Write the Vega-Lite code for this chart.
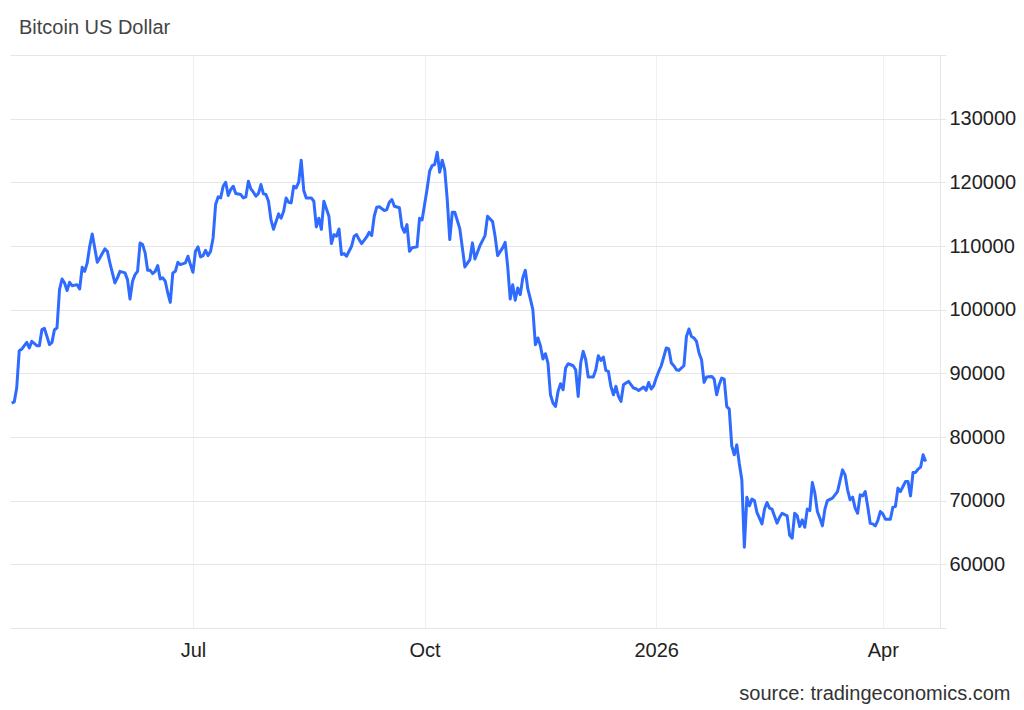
{
  "$schema": "https://vega.github.io/schema/vega-lite/v6.json",
  "width": 930,
  "height": 573,
  "autosize": "none",
  "padding": {"left": 10, "top": 55, "right": 84, "bottom": 82},
  "background": "white",
  "config": {"font": "Liberation Sans", "view": {"stroke": null}},
  "title": {"text": "Bitcoin US Dollar", "anchor": "start", "frame": "group", "fontSize": 20, "fontWeight": "normal", "color": "#444444", "dx": 9, "dy": 20, "baseline": "alphabetic", "offset": 21},
  "data": {"values": [
    {"date":"2025-04-20","price":85330},{"date":"2025-04-21","price":85500},{"date":"2025-04-22","price":87700},{"date":"2025-04-23","price":93550},{"date":"2025-04-24","price":93800},{"date":"2025-04-26","price":94860},{"date":"2025-04-27","price":93980},{"date":"2025-04-28","price":95020},{"date":"2025-04-30","price":94340},
    {"date":"2025-05-01","price":94340},{"date":"2025-05-02","price":96860},{"date":"2025-05-03","price":97060},{"date":"2025-05-04","price":95800},{"date":"2025-05-05","price":94500},{"date":"2025-05-06","price":94860},{"date":"2025-05-07","price":96860},{"date":"2025-05-08","price":97120},{"date":"2025-05-09","price":103140},{"date":"2025-05-10","price":104820},{"date":"2025-05-11","price":104200},{"date":"2025-05-12","price":102990},{"date":"2025-05-13","price":104300},{"date":"2025-05-14","price":103770},{"date":"2025-05-16","price":103930},{"date":"2025-05-17","price":103250},{"date":"2025-05-18","price":106650},{"date":"2025-05-19","price":106020},{"date":"2025-05-20","price":107340},{"date":"2025-05-21","price":109950},{"date":"2025-05-22","price":111900},{"date":"2025-05-24","price":107440},{"date":"2025-05-25","price":108130},{"date":"2025-05-27","price":109540},{"date":"2025-05-28","price":109170},{"date":"2025-05-29","price":107340},{"date":"2025-05-31","price":104200},
    {"date":"2025-06-01","price":104990},{"date":"2025-06-02","price":106020},{"date":"2025-06-04","price":105780},{"date":"2025-06-05","price":104720},{"date":"2025-06-06","price":101680},{"date":"2025-06-07","price":104460},{"date":"2025-06-08","price":105500},{"date":"2025-06-09","price":106020},{"date":"2025-06-10","price":110490},{"date":"2025-06-11","price":110220},{"date":"2025-06-12","price":108920},{"date":"2025-06-13","price":106180},{"date":"2025-06-14","price":106180},{"date":"2025-06-15","price":105660},{"date":"2025-06-16","price":106020},{"date":"2025-06-17","price":106920},{"date":"2025-06-18","price":104820},{"date":"2025-06-19","price":104990},{"date":"2025-06-20","price":104460},{"date":"2025-06-21","price":102620},{"date":"2025-06-22","price":101150},{"date":"2025-06-23","price":105770},{"date":"2025-06-24","price":106020},{"date":"2025-06-25","price":107440},{"date":"2025-06-26","price":107080},{"date":"2025-06-28","price":107340},{"date":"2025-06-29","price":108390},{"date":"2025-06-30","price":107080},
    {"date":"2025-07-01","price":105870},{"date":"2025-07-02","price":109170},{"date":"2025-07-03","price":109860},{"date":"2025-07-04","price":108290},{"date":"2025-07-05","price":108490},{"date":"2025-07-06","price":109330},{"date":"2025-07-07","price":108490},{"date":"2025-07-08","price":109170},{"date":"2025-07-09","price":111270},{"date":"2025-07-10","price":116510},{"date":"2025-07-11","price":117710},{"date":"2025-07-12","price":117550},{"date":"2025-07-13","price":119390},{"date":"2025-07-14","price":120020},{"date":"2025-07-15","price":117930},{"date":"2025-07-16","price":118870},{"date":"2025-07-17","price":119390},{"date":"2025-07-18","price":118240},{"date":"2025-07-20","price":118080},{"date":"2025-07-21","price":117550},{"date":"2025-07-22","price":117710},{"date":"2025-07-23","price":120170},{"date":"2025-07-24","price":118970},{"date":"2025-07-25","price":118450},{"date":"2025-07-26","price":117830},{"date":"2025-07-27","price":118240},{"date":"2025-07-28","price":119650},{"date":"2025-07-29","price":118190},{"date":"2025-07-30","price":118080},{"date":"2025-07-31","price":117030},
    {"date":"2025-08-01","price":114090},{"date":"2025-08-02","price":112620},{"date":"2025-08-03","price":113830},{"date":"2025-08-04","price":115040},{"date":"2025-08-05","price":114360},{"date":"2025-08-06","price":115410},{"date":"2025-08-07","price":117550},{"date":"2025-08-08","price":116870},{"date":"2025-08-09","price":116770},{"date":"2025-08-10","price":119390},{"date":"2025-08-11","price":119130},{"date":"2025-08-12","price":120020},{"date":"2025-08-13","price":123480},{"date":"2025-08-14","price":118710},{"date":"2025-08-15","price":117550},{"date":"2025-08-17","price":117550},{"date":"2025-08-18","price":117030},{"date":"2025-08-19","price":113000},{"date":"2025-08-20","price":114360},{"date":"2025-08-21","price":112620},{"date":"2025-08-22","price":117030},{"date":"2025-08-24","price":114670},{"date":"2025-08-25","price":110380},{"date":"2025-08-26","price":111790},{"date":"2025-08-27","price":111530},{"date":"2025-08-28","price":112680},{"date":"2025-08-29","price":108650},{"date":"2025-08-30","price":108800},{"date":"2025-08-31","price":108390},
    {"date":"2025-09-02","price":109960},{"date":"2025-09-03","price":111530},{"date":"2025-09-04","price":111790},{"date":"2025-09-05","price":111010},{"date":"2025-09-06","price":110380},{"date":"2025-09-08","price":111420},{"date":"2025-09-09","price":112150},{"date":"2025-09-10","price":111640},{"date":"2025-09-11","price":114670},{"date":"2025-09-12","price":116100},{"date":"2025-09-13","price":116160},{"date":"2025-09-15","price":115570},{"date":"2025-09-16","price":115730},{"date":"2025-09-17","price":116870},{"date":"2025-09-18","price":117300},{"date":"2025-09-19","price":116240},{"date":"2025-09-21","price":116000},{"date":"2025-09-22","price":113000},{"date":"2025-09-23","price":112150},{"date":"2025-09-24","price":113360},{"date":"2025-09-25","price":109170},{"date":"2025-09-26","price":109710},{"date":"2025-09-28","price":109860},{"date":"2025-09-29","price":114360},{"date":"2025-09-30","price":114090},
    {"date":"2025-10-02","price":118970},{"date":"2025-10-03","price":121750},{"date":"2025-10-04","price":122640},{"date":"2025-10-05","price":122800},{"date":"2025-10-06","price":124730},{"date":"2025-10-07","price":121590},{"date":"2025-10-08","price":123480},{"date":"2025-10-09","price":122010},{"date":"2025-10-10","price":117300},{"date":"2025-10-11","price":111010},{"date":"2025-10-12","price":115300},{"date":"2025-10-13","price":115300},{"date":"2025-10-15","price":112680},{"date":"2025-10-16","price":109710},{"date":"2025-10-17","price":106710},{"date":"2025-10-19","price":107860},{"date":"2025-10-20","price":110490},{"date":"2025-10-21","price":107970},{"date":"2025-10-23","price":110060},{"date":"2025-10-25","price":111640},{"date":"2025-10-26","price":114670},{"date":"2025-10-28","price":113830},{"date":"2025-10-29","price":111530},{"date":"2025-10-30","price":108490},
    {"date":"2025-11-01","price":109710},{"date":"2025-11-02","price":110580},{"date":"2025-11-03","price":106810},{"date":"2025-11-04","price":101680},{"date":"2025-11-05","price":103930},{"date":"2025-11-06","price":101470},{"date":"2025-11-07","price":103410},{"date":"2025-11-08","price":102360},{"date":"2025-11-09","price":104990},{"date":"2025-11-10","price":106180},{"date":"2025-11-11","price":103250},{"date":"2025-11-12","price":101680},{"date":"2025-11-13","price":100000},{"date":"2025-11-14","price":94500},{"date":"2025-11-15","price":95550},{"date":"2025-11-16","price":94340},{"date":"2025-11-17","price":92250},{"date":"2025-11-18","price":93080},{"date":"2025-11-19","price":91620},{"date":"2025-11-20","price":86630},{"date":"2025-11-21","price":85330},{"date":"2025-11-22","price":84800},{"date":"2025-11-23","price":87160},{"date":"2025-11-24","price":88360},{"date":"2025-11-25","price":87420},{"date":"2025-11-26","price":90830},{"date":"2025-11-27","price":91510},{"date":"2025-11-29","price":91190},{"date":"2025-11-30","price":90570},
    {"date":"2025-12-01","price":86370},{"date":"2025-12-02","price":91620},{"date":"2025-12-03","price":93450},{"date":"2025-12-04","price":92140},{"date":"2025-12-05","price":89420},{"date":"2025-12-07","price":89420},{"date":"2025-12-08","price":90570},{"date":"2025-12-09","price":92770},{"date":"2025-12-10","price":92040},{"date":"2025-12-11","price":92560},{"date":"2025-12-12","price":90460},{"date":"2025-12-13","price":90300},{"date":"2025-12-14","price":87950},{"date":"2025-12-15","price":86630},{"date":"2025-12-16","price":87950},{"date":"2025-12-17","price":86370},{"date":"2025-12-18","price":85590},{"date":"2025-12-19","price":88210},{"date":"2025-12-20","price":88470},{"date":"2025-12-21","price":88730},{"date":"2025-12-23","price":87690},{"date":"2025-12-24","price":87580},{"date":"2025-12-25","price":87320},{"date":"2025-12-27","price":87850},{"date":"2025-12-28","price":87320},{"date":"2025-12-29","price":88570},{"date":"2025-12-30","price":87530},{"date":"2025-12-31","price":88050},
    {"date":"2026-01-01","price":89260},{"date":"2026-01-02","price":90300},{"date":"2026-01-03","price":91190},{"date":"2026-01-05","price":93980},{"date":"2026-01-06","price":93820},{"date":"2026-01-07","price":91620},{"date":"2026-01-08","price":91190},{"date":"2026-01-09","price":90570},{"date":"2026-01-10","price":90460},{"date":"2026-01-12","price":91190},{"date":"2026-01-13","price":95800},{"date":"2026-01-14","price":96960},{"date":"2026-01-15","price":95800},{"date":"2026-01-16","price":95550},{"date":"2026-01-17","price":95020},{"date":"2026-01-18","price":93190},{"date":"2026-01-19","price":92140},{"date":"2026-01-20","price":88570},{"date":"2026-01-21","price":89420},{"date":"2026-01-23","price":89520},{"date":"2026-01-24","price":89100},{"date":"2026-01-25","price":86630},{"date":"2026-01-26","price":88210},{"date":"2026-01-27","price":89260},{"date":"2026-01-28","price":89100},{"date":"2026-01-29","price":84800},{"date":"2026-01-30","price":84380},{"date":"2026-01-31","price":78620},
    {"date":"2026-02-01","price":77200},{"date":"2026-02-02","price":78770},{"date":"2026-02-03","price":75790},{"date":"2026-02-04","price":73270},{"date":"2026-02-05","price":62690},{"date":"2026-02-06","price":70550},{"date":"2026-02-07","price":69180},{"date":"2026-02-08","price":70240},{"date":"2026-02-09","price":70020},{"date":"2026-02-10","price":68150},{"date":"2026-02-12","price":66350},{"date":"2026-02-13","price":68670},{"date":"2026-02-14","price":69710},{"date":"2026-02-15","price":68830},{"date":"2026-02-16","price":68670},{"date":"2026-02-18","price":66460},{"date":"2026-02-19","price":67400},{"date":"2026-02-20","price":68030},{"date":"2026-02-22","price":67610},{"date":"2026-02-23","price":64550},{"date":"2026-02-24","price":64100},{"date":"2026-02-25","price":68030},{"date":"2026-02-26","price":67610},{"date":"2026-02-27","price":65930},{"date":"2026-02-28","price":66980},
    {"date":"2026-03-01","price":65830},{"date":"2026-03-02","price":68670},{"date":"2026-03-03","price":68460},{"date":"2026-03-04","price":72850},{"date":"2026-03-05","price":71180},{"date":"2026-03-06","price":68290},{"date":"2026-03-07","price":67240},{"date":"2026-03-08","price":66040},{"date":"2026-03-09","price":68670},{"date":"2026-03-10","price":70020},{"date":"2026-03-12","price":70390},{"date":"2026-03-13","price":70910},{"date":"2026-03-14","price":71430},{"date":"2026-03-16","price":74840},{"date":"2026-03-17","price":74060},{"date":"2026-03-18","price":71700},{"date":"2026-03-19","price":70130},{"date":"2026-03-20","price":70550},{"date":"2026-03-21","price":68820},{"date":"2026-03-22","price":68030},{"date":"2026-03-23","price":70910},{"date":"2026-03-24","price":70750},{"date":"2026-03-25","price":71430},{"date":"2026-03-26","price":69080},{"date":"2026-03-27","price":66460},{"date":"2026-03-28","price":66350},{"date":"2026-03-29","price":66040},{"date":"2026-03-30","price":66870},{"date":"2026-03-31","price":68290},
    {"date":"2026-04-01","price":67920},{"date":"2026-04-02","price":67090},{"date":"2026-04-04","price":67090},{"date":"2026-04-05","price":68980},{"date":"2026-04-06","price":69080},{"date":"2026-04-07","price":71970},{"date":"2026-04-08","price":71430},{"date":"2026-04-09","price":72220},{"date":"2026-04-10","price":73000},{"date":"2026-04-11","price":73000},{"date":"2026-04-12","price":70750},{"date":"2026-04-13","price":74430},{"date":"2026-04-14","price":74430},{"date":"2026-04-15","price":74950},{"date":"2026-04-16","price":75270},{"date":"2026-04-17","price":77200},{"date":"2026-04-18","price":76150}
  ]},
  "mark": {"type": "line", "color": "#2f6bff", "strokeWidth": 3, "strokeJoin": "round"},
  "encoding": {
    "x": {
      "field": "date", "type": "temporal",
      "scale": {"type": "utc", "domain": [{"year": 2025, "month": 4, "date": 19, "hours": 8, "utc": true}, {"year": 2026, "month": 4, "date": 23, "hours": 17, "utc": true}]},
      "axis": {
        "values": [{"year": 2025, "month": 7, "date": 1, "utc": true}, {"year": 2025, "month": 10, "date": 1, "utc": true}, {"year": 2026, "month": 1, "date": 1, "utc": true}, {"year": 2026, "month": 4, "date": 1, "utc": true}],
        "labelExpr": "utcFormat(datum.value, '%m') == '01' ? utcFormat(datum.value, '%Y') : utcFormat(datum.value, '%b')",
        "grid": true, "gridColor": "#edf1f5", "gridWidth": 1,
        "domain": true, "domainColor": "#e6e6e6", "domainWidth": 1,
        "ticks": false,
        "labelFontSize": 20, "labelColor": "#222222", "labelPadding": 12, "labelFlush": false,
        "title": "source: tradingeconomics.com",
        "titleFontSize": 20, "titleFontWeight": "normal", "titleColor": "#333333",
        "titleAlign": "right", "titleAnchor": "end", "titleBaseline": "alphabetic",
        "titleX": 1000, "titleY": 71
      }
    },
    "y": {
      "field": "price", "type": "quantitative",
      "scale": {"domain": [50000, 140000], "nice": false, "zero": false},
      "axis": {
        "orient": "right",
        "values": [50000, 60000, 70000, 80000, 90000, 100000, 110000, 120000, 130000, 140000],
        "labelExpr": "datum.value == 50000 || datum.value == 140000 ? '' : format(datum.value, 'd')",
        "grid": true, "gridColor": "#e6e6e6", "gridWidth": 1,
        "domain": true, "domainColor": "#e6e6e6",
        "ticks": true, "tickColor": "#e6e6e6", "tickSize": 6,
        "labelFontSize": 20, "labelColor": "#222222", "labelPadding": 3,
        "title": null
      }
    }
  }
}
